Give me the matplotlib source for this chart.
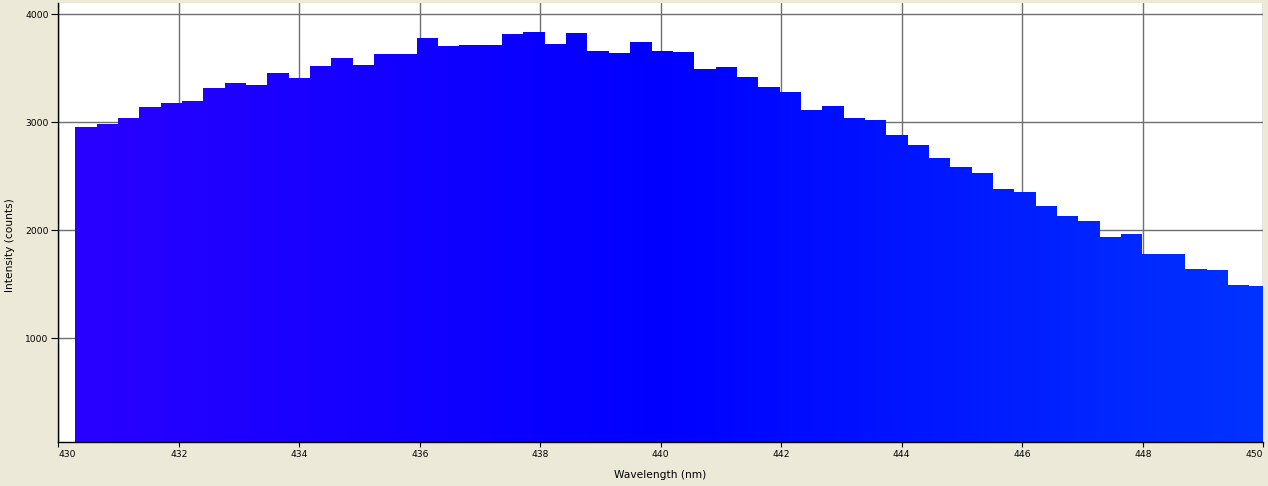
import numpy as np
import matplotlib
matplotlib.use("Agg")
import matplotlib.pyplot as plt

# spectrometer readout, one value per detector pixel
counts = [2954, 2981, 3037, 3139, 3176, 3194, 3315, 3361, 3343, 3454,
          3407, 3519, 3593, 3528, 3630, 3630, 3778, 3704, 3713, 3713,
          3815, 3833, 3722, 3824, 3657, 3639, 3741, 3657, 3648, 3491,
          3509, 3417, 3324, 3278, 3111, 3148, 3037, 3019, 2880, 2787,
          2667, 2583, 2528, 2380, 2352, 2222, 2130, 2083, 1935, 1963,
          1778, 1778, 1639, 1630, 1491, 1481]
wl_start = 430.28   # nm, left edge of first pixel
wl_step = 0.3543    # nm per pixel
x_ticks = [430, 432, 434, 436, 438, 440, 442, 444, 446, 448, 450]
y_ticks = [1000, 2000, 3000, 4000]

edges = wl_start + wl_step * np.arange(len(counts) + 1)


def wl_to_rgb(w):
    # rough visible-spectrum colour (blue region only matters here)
    r = np.clip((440 - w) / 60.0, 0, 1)
    g = np.clip((w - 440) / 50.0, 0, 1)
    b = np.ones_like(w)
    return np.stack([r, g, b], axis=-1)


bg = '#ECE9D8'
fig = plt.figure(figsize=(12.68, 4.86), dpi=100, facecolor=bg)
ax = fig.add_axes([58.3 / 1268, 1 - 442 / 486, (1263.3 - 58.3) / 1268, 439 / 486])
ax.set_facecolor('white')

step = ax.stairs(counts, edges, fill=True, baseline=0, facecolor='none',
                 edgecolor='none', zorder=2)

wl = np.linspace(430, 450, 600)
grad = wl_to_rgb(wl)[np.newaxis, :, :]
im = ax.imshow(grad, extent=[430, 450, 0, 4200], aspect='auto',
               interpolation='bilinear', zorder=2)
im.set_clip_path(step)

ax.set_xlim(430, 450)
ax.set_ylim(37, 4102)
ax.set_xticks(x_ticks)
ax.set_yticks(y_ticks)
ax.set_xticklabels([str(t) for t in x_ticks])
ax.set_yticklabels([str(t) for t in y_ticks])
labs = ax.get_xticklabels()
labs[0].set_ha('left')
labs[-1].set_ha('right')

ax.grid(True, color='#707070', linewidth=1.0, zorder=1)
ax.set_axisbelow(True)
for s in ['top', 'right']:
    ax.spines[s].set_visible(False)
for s in ['left', 'bottom']:
    ax.spines[s].set_color('black')
    ax.spines[s].set_linewidth(1.0)
    ax.spines[s].set_zorder(3)
ax.tick_params(direction='out', width=0.8, labelsize=6.6, colors='black')
ax.tick_params(axis='x', length=3.6, pad=2.5)
ax.tick_params(axis='y', length=5, pad=2)

fig.text(10 / 1268, 1 - 245 / 486, 'Intensity (counts)', rotation=90,
         ha='center', va='center', fontsize=7.7)
fig.text(660 / 1268, 1 - 474.5 / 486, 'Wavelength (nm)', ha='center',
         va='center', fontsize=7.7)

plt.savefig('out.png', dpi=100, facecolor=bg)
